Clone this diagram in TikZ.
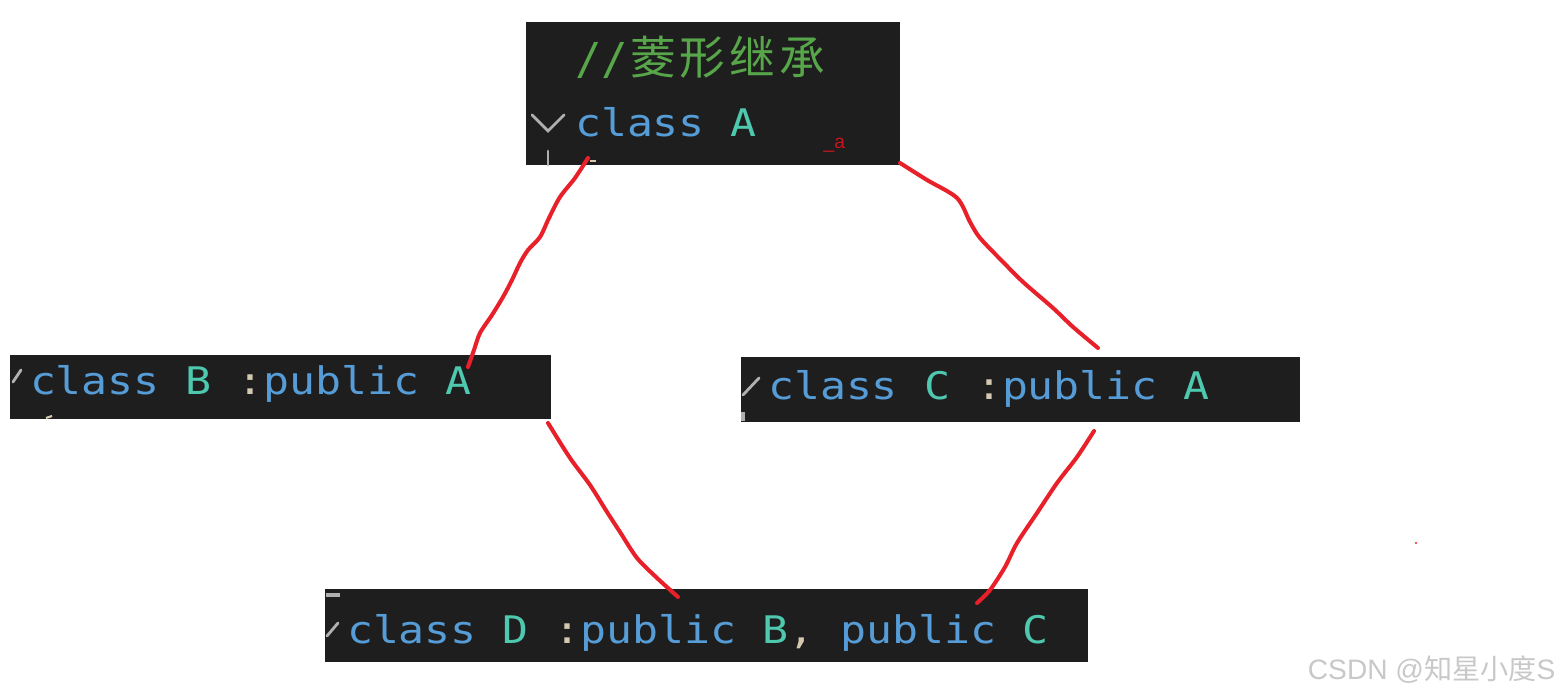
\documentclass[tikz,border=0pt]{standalone}
\usepackage{fontspec}
\newfontfamily\codefont[FakeStretch=1.137]{DejaVu Sans Mono}
\newfontfamily\slashfont{DejaVu Sans Mono}
\newfontfamily\cjkfont{Noto Sans CJK SC}
\newfontfamily\wmfont{Liberation Sans}
\definecolor{codebg}{HTML}{1E1E1E}
\definecolor{kwblue}{HTML}{569CD6}
\definecolor{typeteal}{HTML}{4EC9B0}
\definecolor{cmtgreen}{HTML}{57A64A}
\definecolor{punct}{HTML}{D4C8B0}
\definecolor{foldgrey}{HTML}{B0B0B0}
\definecolor{inkred}{HTML}{E8202A}
\definecolor{smallred}{HTML}{C8141E}
\definecolor{wmgrey}{HTML}{C8C8C8}
\newcommand\cjkcell[1]{\makebox[14.2pt]{#1}}
\newcommand\kw[1]{\textcolor{kwblue}{#1}}
\newcommand\ty[1]{\textcolor{typeteal}{#1}}
\newcommand\pu[1]{\textcolor{punct}{#1}}
\begin{document}
\begin{tikzpicture}[x=0.01cm,y=-0.01cm,
  codebox/.style={fill=codebg, draw=none, inner sep=0pt, outer sep=0pt},
  codetext/.style={anchor=base west, inner sep=0pt, outer sep=0pt, font=\codefont\fontsize{10.8pt}{13pt}\selectfont},
  cmttext/.style={anchor=base west, inner sep=0pt, outer sep=0pt, text=cmtgreen},
  redline/.style={draw=inkred, line width=1.15pt, line cap=round, line join=round},
  fold/.style={draw=foldgrey, line width=0.8pt, line cap=round},
  wmtext/.style={anchor=base east, inner sep=0pt, text=wmgrey, font=\wmfont\fontsize{8pt}{10pt}\selectfont}]
\useasboundingbox (0,0) rectangle (1558,698);

% code boxes
\node[codebox, minimum width=3.74cm, minimum height=1.43cm] (boxA) at (713,93.5) {};
\node[codebox, minimum width=5.41cm, minimum height=0.64cm] (boxB) at (280.5,387) {};
\node[codebox, minimum width=5.59cm, minimum height=0.65cm] (boxC) at (1020.5,389.5) {};
\node[codebox, minimum width=7.63cm, minimum height=0.73cm] (boxD) at (706.5,625.5) {};

% texts
\node[cmttext] (cmt) at (575,75) {{\slashfont\fontsize{12.5pt}{14pt}\selectfont //}{\cjkfont\fontsize{13pt}{15pt}\selectfont\cjkcell{菱}\cjkcell{形}\cjkcell{继}\cjkcell{承}}};
\node[codetext] (tA) at (575,137) {\kw{class} \ty{A}};
\node[codetext] (tB) at (30,395) {\kw{class} \ty{B} \pu{:}\kw{public} \ty{A}};
\node[codetext] (tC) at (768,400) {\kw{class} \ty{C} \pu{:}\kw{public} \ty{A}};
\node[codetext] (tD) at (347,644) {\kw{class} \ty{D} \pu{:}\kw{public} \ty{B}\pu{,} \kw{public} \ty{C}};
\node[anchor=base west, inner sep=0pt, text=smallred, font=\wmfont\fontsize{5.5pt}{6pt}\selectfont] (sa) at (823,149) {\_a};

% editor fold marks (clipped glyphs)
\draw[fold] (532,115) -- (548,131) -- (564,115);
\draw[fold] (548,151) -- (548,165);
\draw[draw=punct, line width=0.6pt] (590,161) -- (596,161);
\draw[fold] (13,382) -- (21,370);
\draw[draw=punct, line width=0.6pt] (46,418) -- (52,416);
\draw[fold] (743,395) -- (759,378);
\draw[fold, line cap=butt, line width=1.2pt] (743,412) -- (743,421);
\draw[fold, line cap=butt, line width=1.2pt] (326,595) -- (340,595);
\draw[fold] (327,636) -- (338,623);

% hand-drawn red connectors
\coordinate (ab-s) at (588,158);
\coordinate (ab-e) at (468,367);
\coordinate (ac-s) at (900,163);
\coordinate (ac-e) at (1098,348);
\coordinate (bd-s) at (548,423);
\coordinate (bd-e) at (678,597);
\coordinate (cd-s) at (1094,431);
\coordinate (cd-e) at (977,603);
\draw[redline] plot[smooth, tension=0.5] coordinates {(ab-s) (575,178) (560,197) (549,218) (540,237) (528,250) (520,263) (512,280) (503,297) (492,315) (480,333) (474,350) (ab-e)};
\draw[redline] plot[smooth, tension=0.5] coordinates {(ac-s) (927,180) (957,198) (970,222) (980,238) (1003,262) (1023,282) (1053,308) (1073,327) (ac-e)};
\draw[redline] plot[smooth, tension=0.5] coordinates {(bd-s) (570,458) (590,485) (607,512) (620,532) (637,558) (657,578) (bd-e)};
\draw[redline] plot[smooth, tension=0.5] coordinates {(cd-s) (1077,457) (1057,483) (1037,513) (1017,543) (1005,567) (990,590) (cd-e)};
\fill[inkred] (1416,543) circle (1.2);

% watermark
\node[wmtext] (wm) at (1556,680) {CSDN @{\cjkfont 知星小度}S};
\end{tikzpicture}
\end{document}
